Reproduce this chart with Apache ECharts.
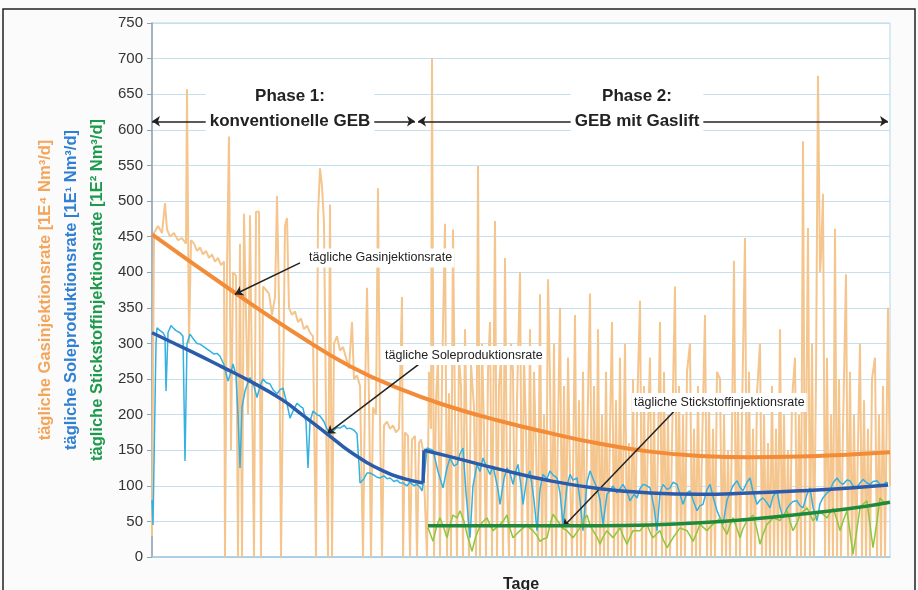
<!DOCTYPE html>
<html><head><meta charset="utf-8">
<script src="https://cdn.jsdelivr.net/npm/echarts@6/dist/echarts.min.js"></script>
<style>html,body{margin:0;padding:0;background:#fff}#c{width:918px;height:590px}</style>
</head><body><div id="c"></div>
<script>
// ---- data (x = Tage, y = rate) ----
const yMin = 0, yMax = 750, yStep = 50;
const dayMax = 738;

const gasRaw = [[0,30],[2,455],[6,465],[10,455],[13,497],[15,460],[18,450],[22,455],[26,445],[30,448],[34,440],[35,657],[37,300],[39,445],[42,440],[45,430],[48,435],[51,425],[54,430],[57,420],[60,425],[63,415],[66,420],[69,410],[72,415],[73,0],[75,405],[77,595],[79,150],[81,400],[84,395],[86,0],[88,440],[90,0],[92,482],[94,482],[96,200],[98,480],[100,482],[102,0],[104,485],[107,485],[109,0],[111,380],[114,375],[117,370],[120,340],[123,365],[125,507],[127,360],[129,0],[131,0],[133,465],[135,476],[137,350],[140,340],[143,345],[146,330],[149,335],[152,320],[155,325],[158,315],[161,310],[164,0],[166,480],[168,546],[170,520],[172,470],[174,200],[176,0],[178,495],[180,0],[182,300],[185,310],[188,290],[191,295],[194,280],[197,265],[200,330],[202,250],[205,255],[208,240],[211,0],[213,230],[215,378],[217,220],[219,0],[221,210],[224,200],[226,518],[228,190],[230,0],[232,185],[235,190],[238,180],[241,185],[244,175],[247,180],[250,365],[251,0],[253,175],[256,170],[258,0],[260,165],[263,170],[265,0],[267,160],[269,165],[271,150],
[273,150],[275,0],[277,260],[279,180],[280,701],[282,0],[284,220],[286,280],[288,0],[290,250],[293,468],[295,0],[297,230],[299,0],[301,460],[303,200],[305,0],[307,280],[309,240],[311,0],[313,320],[315,150],[317,0],[319,270],[322,210],[324,0],[326,549],[328,0],[330,300],[332,180],[334,0],[336,260],[338,330],[340,0],[343,472],[345,0],[347,240],[349,280],[351,0],[353,420],[355,100],[357,0],[359,300],[361,260],[363,0],[365,220],[368,400],[370,0],[372,280],[374,180],[376,0],[378,320],[380,0],[382,260],[384,150],[386,0],[388,369],[390,0],[392,200],[394,0],[396,390],[398,250],[400,0],[402,300],[404,0],[406,180],[408,350],[410,0],[412,240],[414,0],[416,280],[418,120],[420,0],[423,340],[425,0],[427,220],[429,0],[431,260],[433,0],[435,150],[438,370],[440,0],[442,240],[444,0],[446,320],[448,0],[450,200],[452,0],[454,260],[456,0],[458,180],[460,330],[462,0],[464,220],[466,0],[468,280],[470,0],[473,300],[475,0],[477,160],[479,0],[481,250],[483,0],[485,200],[488,360],[490,0],[492,240],[494,0],[496,180],[498,280],[500,0],[502,220],[504,0],[506,150],[508,330],[510,0],[512,260],[514,0],[516,200],[518,0],[520,160],[523,380],[525,0],[527,240],[529,0],[531,200],[533,0],[535,260],[538,300],[540,0],[542,180],[544,0],[546,240],[548,0],[550,150],[553,340],[555,0],[557,220],[559,0],[561,180],[563,0],[565,260],[568,250],[570,0],[572,200],[574,0],[576,150],[578,0],[580,180],[582,416],[584,0],[586,220],[588,0],[590,200],[593,448],[595,0],[597,260],[599,0],[601,180],[603,0],[605,230],[608,300],[610,0],[612,200],[614,0],[616,160],[618,0],[620,240],[622,0],[624,180],[626,0],[628,320],[630,0],[632,200],[634,0],[636,150],[638,0],[640,220],[643,280],[645,0],[647,200],[649,0],[651,584],[653,0],[656,462],[658,0],[660,300],[662,0],[664,250],[666,676],[668,400],[669,420],[671,510],[673,0],[675,280],[677,0],[679,200],[681,0],[683,461],[685,0],[687,250],[689,0],[691,180],[694,397],[696,0],[698,260],[700,0],[702,200],[704,0],[706,160],[708,300],[710,0],[712,220],[714,0],[716,180],[718,0],[720,250],[723,280],[725,0],[727,200],[729,0],[731,240],[733,0],[736,350],[738,100]];

const gasTrend = [[0,453],[85,369],[148,310],[198,268],[248,236],[298,211],[348,191],[398,174],[448,159],[498,148],[548,142],[598,140],[648,141],[698,144],[738,147]];

const soleRaw = [[0,80],[1,45],[4,300],[5,322],[8,318],[11,315],[13,310],[14,233],[16,315],[19,325],[21,322],[24,318],[28,315],[31,310],[33,135],[35,300],[38,313],[42,305],[45,300],[48,299],[52,295],[55,292],[58,289],[62,285],[65,286],[68,282],[72,270],[76,247],[79,260],[81,271],[84,255],[86,200],[88,125],[90,210],[93,233],[96,245],[98,252],[102,240],[105,224],[108,240],[111,250],[114,245],[118,243],[121,235],[125,229],[128,235],[131,237],[135,215],[138,195],[141,205],[145,216],[148,212],[151,209],[154,190],[156,125],[158,190],[161,205],[165,200],[168,198],[172,190],[175,180],[178,173],[182,178],[185,182],[188,181],[192,185],[195,180],[198,181],[202,178],[205,173],[207,130],[208,104],[212,110],[215,118],[218,118],[222,115],[225,112],[228,111],[232,114],[235,110],[238,111],[242,106],[245,108],[248,104],[251,104],[255,100],[258,105],[262,100],[265,102],[268,98],[270,93],[272,110],[275,153],
[281,150],[286,120],[291,97],[295,125],[298,139],[302,128],[305,130],[308,145],[311,153],[314,90],[318,27],[321,100],[325,130],[328,120],[331,139],[335,125],[338,116],[341,128],[343,130],[346,95],[348,74],[352,110],[355,125],[358,118],[361,102],[364,122],[366,130],[369,100],[371,74],[375,112],[378,121],[382,80],[385,37],[388,95],[391,116],[395,110],[398,121],[401,115],[405,111],[408,90],[411,46],[415,100],[418,116],[421,108],[425,111],[428,80],[431,37],[435,105],[438,121],[441,110],[445,97],[448,80],[451,46],[455,88],[458,93],[461,100],[465,90],[468,96],[471,102],[475,92],[478,79],[482,88],[485,83],[488,96],[491,102],[495,100],[498,97],[502,70],[505,37],[508,90],[511,102],[515,95],[518,97],[521,105],[525,102],[528,88],[531,74],[535,90],[538,93],[541,80],[545,65],[548,72],[551,74],[555,95],[558,102],[561,85],[565,65],[568,55],[571,46],[575,80],[578,90],[581,100],[585,107],[588,98],[591,93],[595,105],[598,111],[601,92],[605,74],[608,80],[611,83],[615,76],[618,69],[621,85],[625,93],[628,70],[631,55],[635,68],[638,74],[641,78],[645,79],[648,72],[651,69],[655,88],[658,97],[661,70],[665,51],[668,75],[671,83],[675,90],[678,93],[681,104],[685,111],[688,105],[691,102],[695,108],[698,107],[701,100],[705,97],[708,104],[711,109],[715,104],[718,102],[721,106],[725,107],[728,102],[731,100],[734,105],[736,104]];

const soleTrend1 = [[0,315],[40,288],[70,267],[98,247],[130,221],[150,200],[175,173],[200,146],[231,121],[252,110],[271,104]];
const soleTrend2 = [[272,150],[298,141],[348,123],[398,107],[448,96],[498,90],[548,88],[598,90],[648,93],[698,97],[736,101]];

const n2Raw = [[276,41],[281,22],[285,45],[288,55],[292,40],[295,27],[298,45],[301,59],[305,55],[308,65],[312,50],[315,32],[320,8],[323,25],[326,37],[330,48],[335,55],[338,45],[341,37],[345,42],[348,46],[352,52],[355,59],[358,40],[361,27],[365,33],[368,37],[372,42],[375,46],[378,40],[381,37],[385,30],[388,22],[391,25],[395,27],[398,45],[401,60],[405,52],[408,46],[411,40],[415,37],[418,32],[421,27],[425,35],[428,41],[431,50],[435,59],[438,45],[441,37],[445,28],[448,18],[451,28],[455,37],[458,32],[461,27],[465,35],[468,41],[471,30],[475,18],[478,28],[481,37],[485,37],[488,37],[491,42],[495,46],[498,35],[501,27],[505,33],[508,37],[511,25],[515,13],[518,20],[521,27],[525,35],[528,41],[531,39],[535,37],[538,30],[541,22],[545,35],[548,46],[551,42],[555,37],[558,42],[561,46],[565,50],[568,55],[571,42],[575,32],[578,45],[581,55],[585,40],[588,27],[591,40],[595,51],[598,55],[601,59],[605,38],[608,18],[611,32],[615,46],[618,50],[621,55],[625,53],[628,51],[631,58],[635,65],[638,50],[641,37],[645,48],[648,59],[651,64],[655,69],[658,60],[661,51],[665,58],[668,65],[671,60],[675,55],[678,62],[681,69],[685,52],[688,37],[691,50],[695,65],[698,35],[701,4],[705,40],[708,69],[711,74],[715,79],[718,45],[721,13],[725,50],[728,83],[731,78],[735,74]];

const n2Trend = [[276,44],[348,44],[448,44],[498,45],[548,48],[598,53],[648,60],[698,68],[738,77]];

// annotations (data coordinates)
const phaseArrows = [[0,612,263,612],[266,612,736,612]];
const phaseLabels = [[138,630,'Phase 1:\nkonventionelle GEB'],[485,630,'Phase 2:\nGEB mit Gaslift']];
const noteArrows = [[148,413,83,369],[268,272,175,173],[525,209,411,42]];
const noteLabels = [[155,420,'tägliche Gasinjektionsrate'],[231,283,'tägliche Soleproduktionsrate'],[480,217,'tägliche Stickstoffinjektionsrate']];

const yTitles = [
  ['tägliche Gasinjektionsrate [1E⁴ Nm³/d]', '#f3a55a'],
  ['tägliche Soleproduktionsrate [1E¹ Nm³/d]', '#2f7fd3'],
  ['tägliche Stickstoffinjektionsrate [1E² Nm³/d]', '#1d9a4c']
];

const chart = echarts.init(document.getElementById('c'), null, {renderer:'canvas'});
const FF = 'Arial, "Liberation Sans", sans-serif';

function lineSeries(data, color, width, z, smooth) {
  return {type:'line', data, symbol:'none', z, silent:true, animation:false,
    smooth: smooth ? 0.5 : false,
    lineStyle:{color, width}};
}

const titleX = [45, 71, 97];
const soleJump = [soleTrend1[soleTrend1.length-1], soleTrend2[0]];
const option = {
  backgroundColor:'#fbfbfb',
  animation:false,
  grid:{left:152, right:28, top:23, bottom:33, outerBoundsMode:'none', containLabel:false,
    show:true, backgroundColor:'#fff', borderColor:'#b6d6e8', borderWidth:1},
  xAxis:{type:'value', min:0, max:dayMax,
    axisLine:{show:true, lineStyle:{color:'#9fc9e2', width:1.5}},
    axisTick:{show:false}, axisLabel:{show:false}, splitLine:{show:false},
    name:'Tage', nameLocation:'middle', nameGap:20,
    nameTextStyle:{fontFamily:FF, fontWeight:'bold', fontSize:16, color:'#222'}},
  yAxis:{type:'value', min:yMin, max:yMax, interval:yStep,
    axisLine:{show:true, lineStyle:{color:'#8fa2b0', width:1.5}},
    axisTick:{show:true, length:5, lineStyle:{color:'#8fa2b0'}},
    axisLabel:{fontFamily:FF, fontSize:15, color:'#333', margin:9},
    splitLine:{lineStyle:{color:'#c4e0ef', width:1}}},
  series:[
    lineSeries(gasRaw, '#f5c58e', 2, 2, false),
    lineSeries(soleRaw, '#34b0e2', 1.5, 3, false),
    lineSeries(n2Raw, '#8dc640', 1.5, 3, false),
    lineSeries(gasTrend, '#f28c38', 4, 4, true),
    lineSeries(soleTrend1, '#2b5cab', 3.5, 5, true),
    lineSeries(soleJump, '#2b5cab', 3.5, 5, false),
    lineSeries(soleTrend2, '#2b5cab', 3.5, 5, true),
    lineSeries(n2Trend, '#1f8a3c', 3.5, 5, true),
    {type:'line', data:[], z:8, silent:true,
      markLine:{silent:true, animation:false, symbol:['arrow','arrow'], symbolSize:8,
        label:{show:false}, lineStyle:{color:'#222', width:1.5, type:'solid'},
        data: phaseArrows.map(a=>[{coord:[a[0],a[1]]},{coord:[a[2],a[3]]}])}},
    {type:'line', data:[], z:8, silent:true,
      markLine:{silent:true, animation:false, symbol:['none','arrow'], symbolSize:8,
        label:{show:false}, lineStyle:{color:'#222', width:1.5, type:'solid'},
        data: noteArrows.map(a=>[{coord:[a[0],a[1]]},{coord:[a[2],a[3]]}])}},
    {type:'line', data:[], z:9, silent:true,
      markPoint:{silent:true, animation:false, symbol:'circle', symbolSize:0,
        itemStyle:{color:'rgba(0,0,0,0)'},
        data: phaseLabels.map(p=>({coord:[p[0],p[1]], value:p[2],
          label:{show:true, position:'inside', formatter:p[2], fontFamily:FF, fontWeight:'bold',
            fontSize:17, lineHeight:25, color:'#222', backgroundColor:'#fff', padding:[3,4], align:'center'}}))
          .concat(noteLabels.map(p=>({coord:[p[0],p[1]], value:p[2],
          label:{show:true, position:'right', distance:0, formatter:p[2], fontFamily:FF,
            fontSize:12.5, color:'#222', backgroundColor:'#fff', padding:[3,2]}})))}}
  ],
  graphic:[
    {type:'rect', shape:{x:3, y:9, width:912, height:600}, style:{fill:'none', stroke:'#222', lineWidth:1.5}, z:100, silent:true}
  ].concat(yTitles.map((t,i)=>({type:'text', x:titleX[i], y:290, rotation:Math.PI/2, silent:true,
      style:{text:t[0], fill:t[1], font:'bold 16.5px Arial, "Liberation Sans", sans-serif', align:'center', verticalAlign:'middle'}})))
};
chart.setOption(option);
</script>
</body></html>
